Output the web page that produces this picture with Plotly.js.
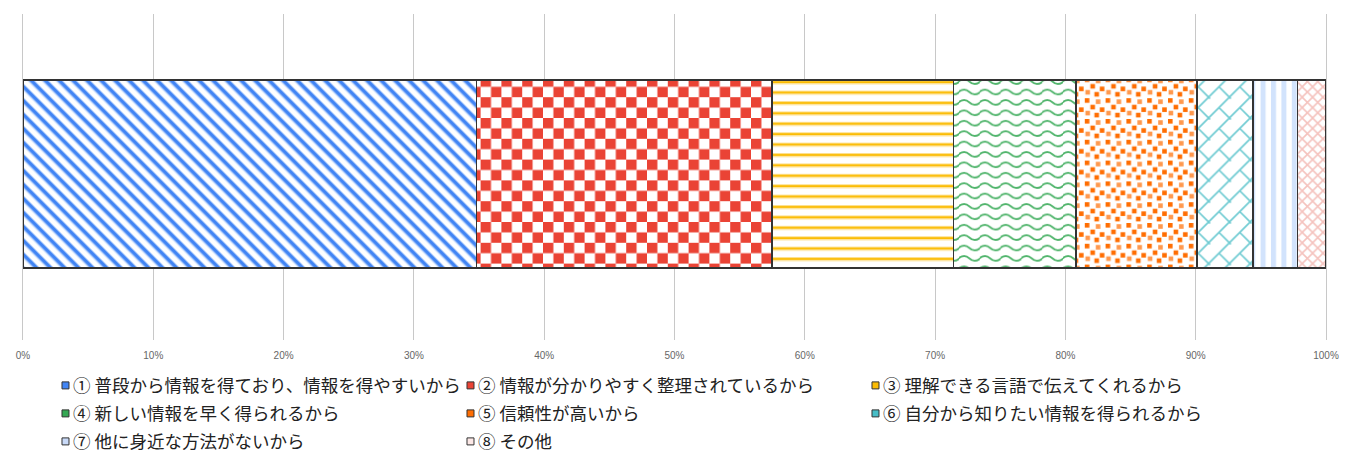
<!DOCTYPE html>
<html>
<head>
<meta charset="utf-8">
<script src="https://cdn.plot.ly/plotly-3.0.1.min.js"></script>
<style>
html,body{margin:0;padding:0;background:#fff;}
#chart{width:1356px;height:455px;}
</style>
</head>
<body>
<svg width="0" height="0" style="position:absolute;left:0;top:0">
<defs>
  <pattern id="pat0" patternUnits="userSpaceOnUse" width="9.9" height="9.9" patternTransform="rotate(45)">
    <rect width="9.9" height="9.9" fill="#ffffff"/>
    <rect y="0" width="9.9" height="3.4" fill="#4285F4"/>
    <rect y="3.4" width="9.9" height="0.9" fill="#4285F4" opacity="0.4"/>
    <rect y="9.0" width="9.9" height="0.9" fill="#4285F4" opacity="0.4"/>
  </pattern>
  <pattern id="pat1" patternUnits="userSpaceOnUse" width="20.8" height="20.8">
    <rect width="20.8" height="20.8" fill="#ffffff"/>
    <rect x="0" y="0" width="10.4" height="10.4" fill="#EA4335"/>
    <rect x="10.4" y="10.4" width="10.4" height="10.4" fill="#EA4335"/>
  </pattern>
  <pattern id="pat2" patternUnits="userSpaceOnUse" width="10.4" height="10.4">
    <rect width="10.4" height="10.4" fill="#ffffff"/>
    <rect y="3.8" width="10.4" height="1" fill="#FDE293"/>
    <rect y="4.8" width="10.4" height="2.2" fill="#FBBC04"/>
    <rect y="7.0" width="10.4" height="1" fill="#FDE293"/>
  </pattern>
  <pattern id="pat3" patternUnits="userSpaceOnUse" width="20.8" height="10.4">
    <rect width="20.8" height="10.4" fill="#ffffff"/>
    <path d="M-0.5,5.2 C3.5,1.9 6.9,1.9 10.4,5.2 C13.9,8.5 17.3,8.5 21.3,5.2" stroke="#34A853" stroke-width="1.9" fill="none" opacity="0.85"/>
  </pattern>
  <pattern id="pat4" patternUnits="userSpaceOnUse" width="20.8" height="20.8">
    <rect width="20.8" height="20.8" fill="#ffffff"/>
    <rect x="1" y="1" width="4.6" height="4.6" fill="#FF6D01"/>
    <rect x="12" y="2.2" width="4.6" height="4.6" fill="#FF6D01" opacity="0.7"/>
    <rect x="6.6" y="7.6" width="4.6" height="4.6" fill="#FF6D01"/>
    <rect x="16" y="10.2" width="4.6" height="4.6" fill="#FF6D01"/>
    <rect x="1.6" y="13.6" width="4.6" height="4.6" fill="#FF6D01" opacity="0.7"/>
    <rect x="10.6" y="15.6" width="4.6" height="4.6" fill="#FF6D01"/>
  </pattern>
  <pattern id="pat5" patternUnits="userSpaceOnUse" width="20.8" height="20.8">
    <rect width="20.8" height="20.8" fill="#ffffff"/>
    <path d="M-2,22.8 L22.8,-2 M10.4,10.4 L22.8,22.8 M-2,-2 L1.5,1.5" stroke="#46BDC6" stroke-width="1.7" fill="none" opacity="0.78"/>
  </pattern>
  <pattern id="pat6" patternUnits="userSpaceOnUse" width="10.4" height="10.4">
    <rect width="10.4" height="10.4" fill="#ffffff"/>
    <rect x="0" y="0" width="5" height="10.4" fill="#D2E3FC"/>
  </pattern>
  <pattern id="pat7" patternUnits="userSpaceOnUse" width="10.4" height="10.4">
    <rect width="10.4" height="10.4" fill="#ffffff"/>
    <path d="M0,0 L10.4,10.4 M10.4,0 L0,10.4" stroke="#F5C3BE" stroke-width="1.6" fill="none"/>
  </pattern>
</defs>
</svg>
<div id="chart"></div>
<script>
// ---- data ----
const category = ['回答'];
const seriesNames = [
  '① 普段から情報を得ており、情報を得やすいから',
  '② 情報が分かりやすく整理されているから',
  '③ 理解できる言語で伝えてくれるから',
  '④ 新しい情報を早く得られるから',
  '⑤ 信頼性が高いから',
  '⑥ 自分から知りたい情報を得られるから',
  '⑦ 他に身近な方法がないから',
  '⑧ その他'
];
const seriesValues = [34.8, 22.7, 13.9, 9.4, 9.3, 4.3, 3.4, 2.2];
const tickValues = [0, 10, 20, 30, 40, 50, 60, 70, 80, 90, 100];
const tickLabels = ['0%', '10%', '20%', '30%', '40%', '50%', '60%', '70%', '80%', '90%', '100%'];

// ---- styles ----
const seriesColors = ['#4285F4', '#EA4335', '#FBBC04', '#34A853', '#FF6D01', '#46BDC6', '#C9DAF8', '#FCE8E6'];
const fallbackShapes = ['\\', '+', '-', '', '.', '/', '|', 'x'];

const traces = seriesNames.map((name, i) => ({
  type: 'bar',
  orientation: 'h',
  name: name,
  x: [seriesValues[i]],
  y: category,
  marker: {
    color: seriesColors[i],
    line: {color: '#333333', width: 1.5},
    pattern: {shape: fallbackShapes[i], fgcolor: seriesColors[i], bgcolor: '#ffffff', size: 8, solidity: 0.45}
  },
  hoverinfo: 'skip'
}));

const layout = {
  width: 1356,
  height: 455,
  margin: {l: 23, r: 30, t: 14, b: 115, pad: 0},
  paper_bgcolor: '#ffffff',
  plot_bgcolor: '#ffffff',
  barmode: 'stack',
  bargap: 0.423,
  showlegend: true,
  font: {family: '"Noto Sans CJK JP", sans-serif', color: '#222222'},
  xaxis: {
    range: [0, 100],
    tickmode: 'array',
    tickvals: tickValues,
    ticktext: tickLabels,
    showgrid: true,
    gridcolor: '#c8c8c8',
    gridwidth: 1,
    zeroline: false,
    showline: false,
    ticks: '',
    ticklabelstandoff: 8,
    tickfont: {family: '"Liberation Sans", Arial, sans-serif', size: 10, color: '#666666'},
    fixedrange: true
  },
  yaxis: {
    type: 'category',
    range: [-0.509, 0.491],
    showticklabels: false,
    showgrid: false,
    zeroline: false,
    showline: true,
    mirror: true,
    linecolor: '#c8c8c8',
    linewidth: 1,
    fixedrange: true
  },
  legend: {
    orientation: 'h',
    x: 0.00767,
    xanchor: 'left',
    y: 0,
    yanchor: 'top',
    entrywidth: 360,
    entrywidthmode: 'pixels',
    traceorder: 'normal',
    bgcolor: 'rgba(0,0,0,0)',
    borderwidth: 0,
    font: {family: '"Noto Sans CJK JP", sans-serif', size: 17.5, color: '#222222'}
  }
};

const legendDrop = 27.5;   // extra offset below the plot area for the legend rows
const legendRowStep = 28;

function restyleDom(gd) {
  const barTraces = gd.querySelectorAll('.barlayer .trace');
  barTraces.forEach((t, i) => {
    t.querySelectorAll('path').forEach(p => { p.style.fill = 'url(#pat' + i + ')'; });
  });
  const items = Array.from(gd.querySelectorAll('.legend .traces'));
  if (!items.length) return;
  gd.querySelectorAll('.legend [clip-path]').forEach(e => e.removeAttribute('clip-path'));
  const parse = el => {
    const m = /translate\(\s*([-\d.e]+)[ ,]+([-\d.e]+)\s*\)/.exec(el.getAttribute('transform') || '');
    return m ? [parseFloat(m[1]), parseFloat(m[2])] : [0, 0];
  };
  const ys = items.map(it => parse(it)[1]);
  const uniq = Array.from(new Set(ys.map(v => Math.round(v * 10) / 10))).sort((a, b) => a - b);
  items.forEach((it, i) => {
    const [x, y] = parse(it);
    const row = uniq.indexOf(Math.round(y * 10) / 10);
    it.setAttribute('transform', 'translate(' + x + ',' + (uniq[0] + legendDrop + row * legendRowStep) + ')');
    it.querySelectorAll('.legendpoints path').forEach(p => {
      const pm = p.parentNode.getCTM();
      const im = it.getCTM();
      const off = (pm && im) ? (pm.e - im.e) : 0;
      p.setAttribute('d', 'M3.5,3.5H-3.5V-3.5H3.5Z');
      p.setAttribute('transform', 'translate(' + (32.5 - off) + ',0)');
      p.style.fill = seriesColors[i];
      p.style.stroke = '#333333';
      p.style.strokeWidth = '1px';
    });
  });
}

Plotly.newPlot('chart', traces, layout, {displayModeBar: false, staticPlot: true})
  .then(gd => restyleDom(gd));
</script>
</body>
</html>
